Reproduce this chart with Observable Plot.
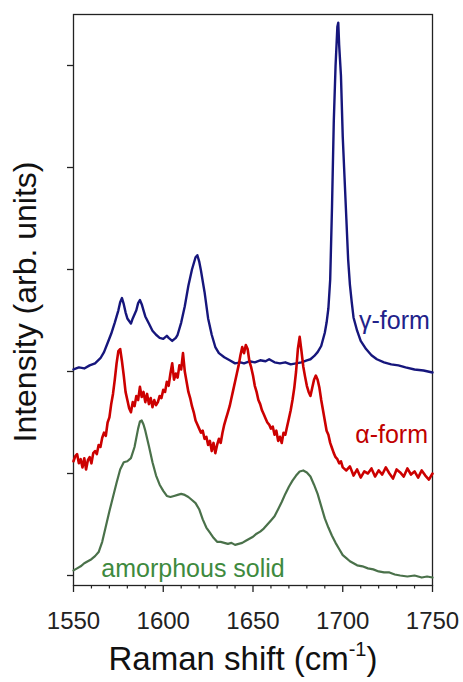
<!DOCTYPE html>
<html><head><meta charset="utf-8">
<script src="https://cdn.jsdelivr.net/npm/d3@7"></script>
<script src="https://cdn.jsdelivr.net/npm/@observablehq/plot@0.6"></script>
<style>body{margin:0;background:#fff} svg{display:block}</style>
</head><body><div id="chart"></div>
<script>
// γ-form spectrum (Raman shift, intensity in tick units)
const gammaShift = [1550,1553,1556,1559,1562,1565,1567,1569,1571,1573,1575,1576,1577,1578,1579,1580,1582,1583,1585,1586,1587,1588,1589,1590,1592,1594,1596,1598,1600,1602,1603,1605,1607,1608,1610,1612,1614,1616,1618,1619,1620,1621,1623,1625,1627,1629,1631,1634,1637,1640,1643,1645,1648,1651,1654,1657,1659,1662,1665,1668,1671,1674,1677,1680,1682,1684,1686,1688,1690,1691,1692,1693,1694,1695,1696,1697,1697.5,1698,1699,1700,1701,1702,1703,1704,1705,1706,1708,1710,1713,1716,1719,1723,1727,1731,1735,1740,1745,1750];
const gammaIntensity = [2.02,2.04,2.03,2.06,2.08,2.13,2.19,2.28,2.37,2.48,2.60,2.68,2.72,2.66,2.58,2.52,2.47,2.52,2.60,2.67,2.70,2.66,2.60,2.54,2.47,2.40,2.36,2.33,2.32,2.35,2.33,2.30,2.33,2.36,2.48,2.64,2.84,3.00,3.12,3.14,3.08,2.99,2.78,2.52,2.36,2.24,2.18,2.14,2.11,2.08,2.09,2.08,2.10,2.09,2.11,2.10,2.12,2.09,2.08,2.09,2.07,2.08,2.09,2.11,2.12,2.15,2.19,2.25,2.38,2.48,2.62,2.90,3.60,4.45,5.00,5.38,5.42,5.20,4.90,4.30,3.90,3.50,3.10,2.85,2.68,2.53,2.40,2.30,2.22,2.16,2.12,2.09,2.07,2.06,2.04,2.02,2.01,1.99];

// α-form spectrum
const alphaShift = [1550,1551,1552,1553,1554,1555,1556,1557,1558,1559,1560,1561,1562,1563,1564,1565,1566,1567,1568,1569,1570,1571,1572,1573,1574,1575,1576,1577,1578,1579,1580,1581,1582,1583,1584,1585,1586,1587,1588,1589,1590,1591,1592,1593,1594,1595,1596,1597,1598,1599,1600,1601,1602,1603,1604,1605,1606,1607,1608,1609,1610,1611,1612,1613,1614,1615,1616,1617,1618,1619,1620,1621,1622,1623,1624,1625,1626,1627,1628,1629,1630,1631,1632,1633,1634,1635,1636,1637,1638,1639,1640,1641,1642,1643,1644,1645,1646,1647,1648,1649,1650,1651,1652,1653,1654,1655,1656,1657,1658,1659,1660,1661,1662,1663,1664,1665,1666,1667,1668,1669,1670,1671,1672,1673,1674,1675,1676,1677,1678,1679,1680,1681,1682,1683,1684,1685,1686,1687,1688,1689,1690,1691,1692,1693,1694,1695,1696,1697,1698,1699,1700,1702,1704,1706,1708,1710,1712,1714,1716,1718,1720,1722,1724,1726,1728,1730,1732,1734,1736,1738,1740,1742,1744,1746,1748,1750];
const alphaIntensity = [1.12,1.17,1.19,1.10,1.14,1.06,1.15,1.04,1.13,1.16,1.10,1.20,1.22,1.19,1.28,1.26,1.35,1.40,1.37,1.50,1.55,1.68,1.78,1.92,2.08,2.20,2.22,2.10,1.96,1.80,1.72,1.64,1.60,1.70,1.66,1.76,1.72,1.85,1.75,1.80,1.70,1.78,1.68,1.74,1.65,1.72,1.67,1.70,1.76,1.74,1.82,1.80,1.90,1.86,1.98,2.08,1.92,1.98,1.94,2.06,2.02,2.18,2.00,1.90,1.80,1.74,1.66,1.60,1.52,1.48,1.44,1.40,1.42,1.34,1.36,1.28,1.32,1.22,1.30,1.20,1.28,1.34,1.30,1.40,1.48,1.54,1.60,1.66,1.74,1.82,1.90,1.98,2.06,2.16,2.24,2.18,2.26,2.22,2.10,2.04,1.96,1.86,1.80,1.72,1.68,1.62,1.58,1.54,1.50,1.48,1.44,1.46,1.38,1.42,1.32,1.36,1.30,1.40,1.38,1.46,1.54,1.62,1.72,1.84,2.00,2.22,2.34,2.20,2.05,1.95,1.86,1.80,1.76,1.84,1.92,1.96,1.92,1.84,1.72,1.62,1.52,1.42,1.38,1.30,1.25,1.20,1.16,1.14,1.10,1.12,1.06,1.03,1.07,0.98,1.04,0.96,1.02,1.00,1.05,0.97,1.03,0.99,1.06,1.00,0.95,1.04,1.01,0.97,1.05,0.99,1.02,0.96,1.03,0.98,0.94,1.00];

// amorphous solid spectrum
const amorphShift = [1550,1552,1554,1556,1558,1560,1562,1564,1566,1568,1570,1572,1574,1576,1578,1580,1582,1584,1586,1587,1588,1589,1590,1592,1594,1596,1598,1600,1602,1604,1606,1608,1610,1612,1614,1616,1618,1620,1622,1624,1626,1628,1630,1632,1634,1636,1638,1640,1642,1644,1646,1648,1650,1652,1654,1656,1658,1660,1662,1664,1666,1668,1670,1672,1674,1676,1678,1680,1682,1684,1686,1688,1690,1692,1694,1696,1698,1700,1702,1704,1706,1708,1711,1714,1717,1720,1723,1726,1729,1732,1736,1740,1744,1747,1750];
const amorphIntensity = [0.05,0.07,0.09,0.12,0.14,0.16,0.19,0.23,0.33,0.48,0.63,0.77,0.91,1.04,1.11,1.12,1.15,1.26,1.44,1.51,1.52,1.48,1.42,1.27,1.11,0.98,0.89,0.83,0.78,0.77,0.78,0.79,0.80,0.79,0.77,0.74,0.71,0.65,0.55,0.47,0.42,0.37,0.33,0.33,0.32,0.31,0.32,0.30,0.31,0.32,0.34,0.36,0.38,0.41,0.43,0.46,0.50,0.54,0.58,0.65,0.72,0.80,0.87,0.93,0.98,1.02,1.03,1.01,0.97,0.89,0.80,0.68,0.56,0.47,0.39,0.32,0.26,0.20,0.17,0.14,0.12,0.10,0.09,0.07,0.06,0.04,0.03,0.03,0.01,0.00,-0.01,0.00,-0.02,-0.01,-0.02];

const xMajorTicks = [1550,1600,1650,1700,1750];
const xMinorTicks = [1560,1570,1580,1590,1610,1620,1630,1640,1660,1670,1680,1690,1710,1720,1730,1740];
const yTicks = [0,1,2,3,4,5];

const seriesLabels = ["γ-form","α-form","amorphous solid"];
const labelShift = [1748.5,1747.5,1565.5];
const labelIntensity = [2.50,1.38,0.06];
const labelColors = ["#22228a","#c00000","#3e8a3e"];

const toRows = (xs, ys) => xs.map((x, i) => ({x, y: ys[i]}));
const gamma = toRows(gammaShift, gammaIntensity);
const alpha = toRows(alphaShift, alphaIntensity);
const amorph = toRows(amorphShift, amorphIntensity);
const labels = seriesLabels.map((t, i) => ({t, x: labelShift[i], y: labelIntensity[i], c: labelColors[i]}));

const chart = Plot.plot({
  width: 463, height: 682,
  marginLeft: 73, marginRight: 31, marginTop: 14, marginBottom: 97,
  x: {domain: [1550, 1750]},
  y: {domain: [-0.098, 5.5]},
  style: {fontFamily: "'Liberation Sans', Arial, sans-serif", background: "white", color: "#222"},
  marks: [
    Plot.frame({stroke: "#222", strokeWidth: 1.3}),
    Plot.axisX({ticks: xMajorTicks, tickSize: 7, tickPadding: 19, fontSize: 24, tickFormat: d3.format("d"), label: null, strokeWidth: 1.3}),
    Plot.axisX({ticks: xMinorTicks, tickSize: 3.5, tickFormat: () => "", label: null, strokeWidth: 1.2}),
    Plot.axisY({ticks: yTicks, tickSize: 6, tickFormat: () => "", label: null, strokeWidth: 1.3}),
    Plot.line(gamma, {x: "x", y: "y", stroke: "#16167c", strokeWidth: 2.4}),
    Plot.line(alpha, {x: "x", y: "y", stroke: "#cc0000", strokeWidth: 2.6}),
    Plot.line(amorph, {x: "x", y: "y", stroke: "#4a714a", strokeWidth: 2.2}),
    Plot.text(labels.slice(0, 2), {x: "x", y: "y", text: "t", fontSize: 25, lineAnchor: "middle", textAnchor: "end", fill: "c"}),
    Plot.text(labels.slice(2), {x: "x", y: "y", text: "t", fontSize: 25, lineAnchor: "middle", textAnchor: "start", fill: "c"})
  ]
});
document.getElementById("chart").appendChild(chart);

const svg = d3.select(chart);
const xt = svg.append("text").attr("x", 243).attr("y", 670).attr("text-anchor", "middle")
  .attr("font-size", 33).attr("fill", "#111").attr("font-family", "'Liberation Sans', Arial, sans-serif");
xt.append("tspan").text("Raman shift (cm");
xt.append("tspan").text("-1").attr("font-size", 20).attr("dy", -14);
xt.append("tspan").text(")").attr("dy", 14);
svg.append("text").attr("transform", "translate(36,302) rotate(-90)").attr("text-anchor", "middle")
  .attr("font-size", 32).attr("fill", "#111").attr("font-family", "'Liberation Sans', Arial, sans-serif")
  .text("Intensity (arb. units)");
</script></body></html>
